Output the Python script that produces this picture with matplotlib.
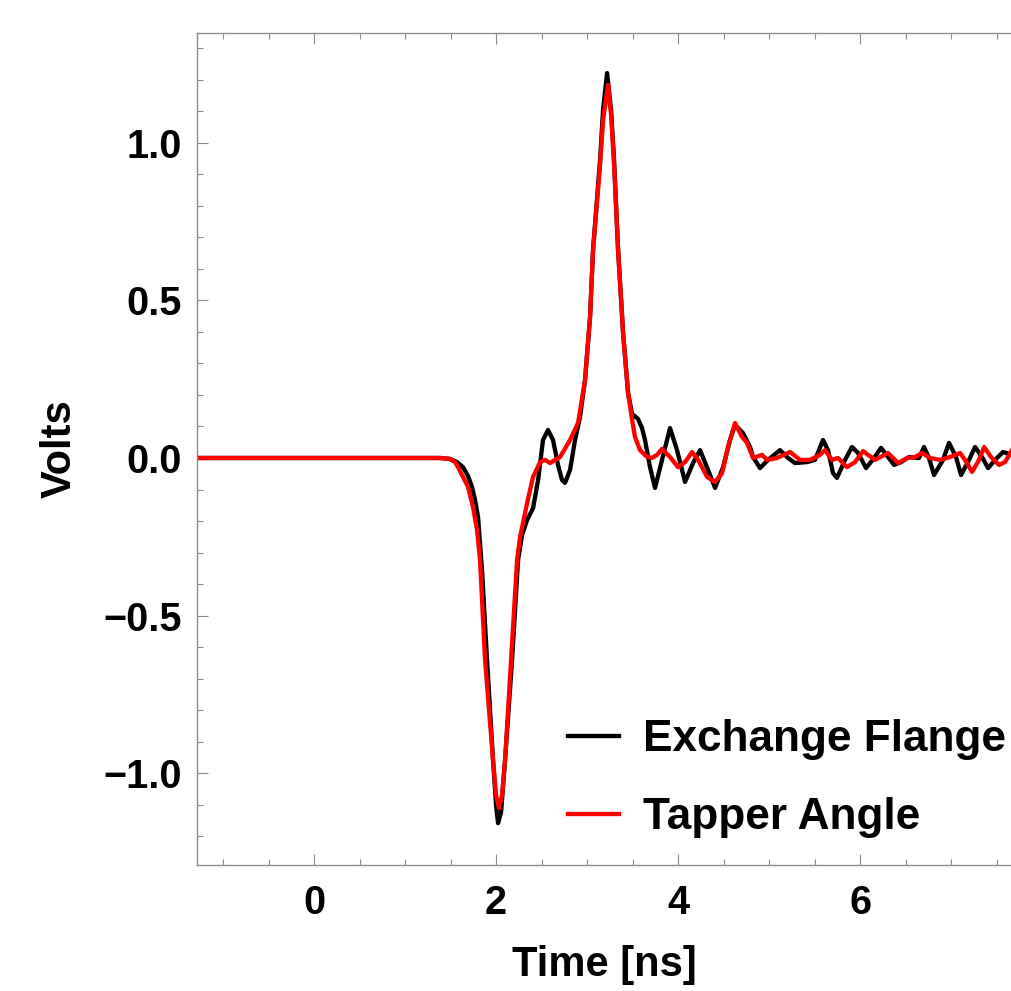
import matplotlib.pyplot as plt
from matplotlib.ticker import MultipleLocator

plt.rcParams['font.family'] = ['Liberation Sans', 'DejaVu Sans']
plt.rcParams['font.weight'] = 'bold'

# Exchange Flange pulse (time in ns, amplitude in volts)
flange_t = [-1.286, 1.385, 1.495, 1.571, 1.637, 1.692, 1.736, 1.769, 1.802, 1.846,
            1.901, 1.967, 2.000, 2.022, 2.055, 2.099, 2.176, 2.242, 2.286, 2.341,
            2.407, 2.462, 2.516, 2.571, 2.626, 2.681, 2.725, 2.758, 2.813, 2.868,
            2.923, 2.978, 3.033, 3.066, 3.143, 3.176, 3.220, 3.264, 3.297, 3.341,
            3.396, 3.451, 3.495, 3.560, 3.604, 3.637, 3.692, 3.747, 3.824, 3.912,
            3.989, 4.077, 4.165, 4.242, 4.330, 4.407, 4.495, 4.571, 4.626, 4.714,
            4.791, 4.824, 4.901, 4.989, 5.121, 5.209, 5.286, 5.418, 5.505, 5.593,
            5.648, 5.703, 5.747, 5.835, 5.912, 5.978, 6.066, 6.154, 6.231, 6.308,
            6.374, 6.451, 6.538, 6.648, 6.703, 6.758, 6.813, 6.912, 6.978, 7.055,
            7.110, 7.198, 7.264, 7.341, 7.407, 7.505, 7.571, 7.670]
flange_v = [0.0, 0.0, -0.003, -0.013, -0.029, -0.057, -0.092, -0.133, -0.187, -0.356,
            -0.641, -0.959, -1.102, -1.159, -1.124, -0.959, -0.641, -0.324, -0.244, -0.197,
            -0.159, -0.070, 0.057, 0.089, 0.057, -0.022, -0.070, -0.079, -0.038, 0.057,
            0.130, 0.248, 0.448, 0.661, 0.946, 1.105, 1.222, 1.105, 0.946, 0.661,
            0.397, 0.206, 0.140, 0.124, 0.095, 0.057, -0.029, -0.095, -0.006, 0.095,
            0.025, -0.076, -0.016, 0.025, -0.038, -0.095, -0.029, 0.057, 0.105, 0.079,
            0.035, 0.003, -0.032, -0.006, 0.025, 0.000, -0.016, -0.013, -0.006, 0.057,
            0.025, -0.048, -0.063, -0.006, 0.035, 0.016, -0.032, 0.000, 0.032, 0.003,
            -0.022, -0.013, 0.003, 0.000, 0.035, 0.000, -0.054, -0.006, 0.048, 0.003,
            -0.054, -0.006, 0.035, 0.003, -0.032, 0.000, 0.019, 0.010]

# Tapper Angle pulse
tapper_t = [-1.286, 1.385, 1.495, 1.549, 1.582, 1.637, 1.692, 1.747, 1.791, 1.824,
            1.879, 1.967, 2.000, 2.033, 2.066, 2.099, 2.165, 2.231, 2.264, 2.341,
            2.407, 2.484, 2.538, 2.593, 2.703, 2.813, 2.901, 2.978, 3.033, 3.066,
            3.143, 3.176, 3.231, 3.264, 3.297, 3.341, 3.396, 3.451, 3.495, 3.527,
            3.582, 3.648, 3.714, 3.769, 3.824, 3.912, 4.000, 4.077, 4.154, 4.220,
            4.319, 4.407, 4.484, 4.549, 4.626, 4.703, 4.758, 4.824, 4.923, 4.978,
            5.088, 5.231, 5.341, 5.451, 5.560, 5.615, 5.692, 5.758, 5.857, 5.945,
            6.033, 6.088, 6.165, 6.308, 6.418, 6.516, 6.604, 6.681, 6.769, 6.879,
            6.989, 7.099, 7.176, 7.231, 7.308, 7.363, 7.440, 7.527, 7.593, 7.670]
tapper_v = [0.0, 0.0, -0.003, -0.013, -0.029, -0.060, -0.092, -0.156, -0.229, -0.324,
            -0.641, -0.959, -1.070, -1.111, -1.070, -0.959, -0.641, -0.324, -0.251, -0.143,
            -0.060, -0.013, -0.006, -0.016, 0.003, 0.057, 0.111, 0.248, 0.448, 0.661,
            0.930, 1.073, 1.184, 1.089, 0.930, 0.661, 0.397, 0.206, 0.121, 0.067,
            0.025, 0.006, 0.000, 0.010, 0.029, 0.003, -0.029, -0.013, 0.019, -0.006,
            -0.060, -0.076, -0.048, 0.035, 0.111, 0.067, 0.048, 0.000, 0.010, -0.006,
            0.000, 0.019, -0.006, -0.006, 0.010, 0.025, -0.006, 0.000, -0.029, -0.013,
            0.022, 0.010, -0.006, 0.016, -0.016, 0.000, 0.003, 0.016, 0.000, -0.006,
            0.003, 0.016, -0.016, -0.044, -0.006, 0.035, 0.003, -0.022, -0.013, 0.025]

x_ticks = [0, 2, 4, 6]
y_ticks = [-1.0, -0.5, 0.0, 0.5, 1.0]
y_tick_labels = ['\u22121.0', '\u22120.5', '0.0', '0.5', '1.0']

fig = plt.figure(figsize=(10.12, 9.91), dpi=100)
# axes run off the right edge of the figure, like the cropped original
ax = fig.add_axes([0.1947, 0.1271, 0.8053, 0.8396])

ax.plot(flange_t, flange_v, color='black', lw=3.1, label='Exchange Flange',
        solid_joinstyle='round')
ax.plot(tapper_t, tapper_v, color='red', lw=3.1, label='Tapper Angle',
        solid_joinstyle='round')

ax.set_xlim(-1.286, 7.67)
ax.set_ylim(-1.292, 1.349)

frame_col = '#8c8c8c'
for side in ['left', 'top', 'bottom']:
    ax.spines[side].set_color(frame_col)
    ax.spines[side].set_linewidth(1.0)
ax.spines['right'].set_visible(False)

ax.set_xticks(x_ticks)
ax.set_yticks(y_ticks)
ax.set_yticklabels(y_tick_labels)
ax.xaxis.set_minor_locator(MultipleLocator(0.5))
ax.yaxis.set_minor_locator(MultipleLocator(0.1))
ax.tick_params(which='both', direction='in', color=frame_col, width=0.8,
               top=True, right=False, labelsize=28.5, labelcolor='black')
ax.tick_params(which='major', length=8)
ax.tick_params(which='minor', length=4.5)
ax.tick_params(axis='x', which='major', pad=14)
ax.tick_params(axis='y', which='major', pad=11)

ax.set_xlabel('Time [ns]', fontsize=30, fontweight='bold', labelpad=16)
ax.set_ylabel('Volts', fontsize=30, fontweight='bold', labelpad=17)

ax.legend(loc='upper left', bbox_to_anchor=(568 / 1012, 1 - 719 / 991),
          bbox_transform=fig.transFigure, frameon=False, fontsize=31.8,
          handlelength=1.15, handletextpad=0.55, labelspacing=0.84,
          borderpad=0, borderaxespad=0)

fig.savefig('out.png', dpi=100)
